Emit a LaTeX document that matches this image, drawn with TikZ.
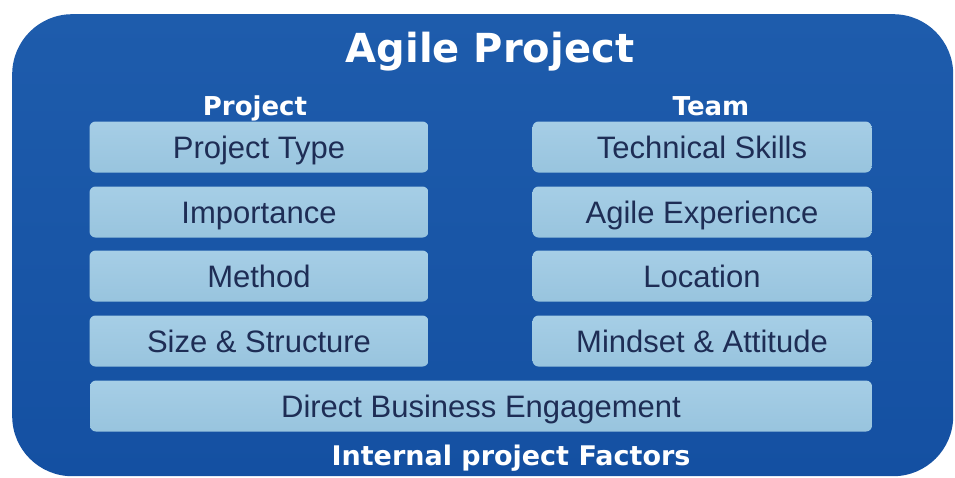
\documentclass[tikz,border=0pt]{standalone}
\usepackage{fontspec}
\setmainfont{Liberation Sans}
\newfontfamily\heavyfont{DejaVu Sans}
\definecolor{outerblue}{RGB}{20,80,162}
\definecolor{outertop}{RGB}{30,92,172}
\definecolor{boxfill}{RGB}{152,196,222}
\definecolor{boxtop}{RGB}{166,206,230}
\definecolor{boxtext}{RGB}{30,45,85}
\tikzset{
  factor/.style={draw=none, rounded corners=6pt, top color=boxtop, bottom color=boxfill,
    minimum height=51pt, inner sep=0pt, text=boxtext, font=\fontsize{31}{33}\selectfont,
    text height=22pt, text depth=0pt},
  halfbox/.style={factor, minimum width=339pt},
  widebox/.style={factor, minimum width=782pt},
  header/.style={text=white, font=\heavyfont\bfseries\fontsize{26}{28}\selectfont, inner sep=0pt, anchor=base},
}
\begin{document}
\begin{tikzpicture}[x=1pt,y=-1pt]
\useasboundingbox (0,0) rectangle (955,477);
\fill[white] (0,0) rectangle (955,477);
\node[draw=none, rounded corners=60pt, top color=outertop, bottom color=outerblue,
  minimum width=941pt, minimum height=462pt, inner sep=0pt, anchor=north west] (outer) at (12,14) {};
\node[text=white, font=\heavyfont\bfseries\fontsize{40}{42}\selectfont, inner sep=0pt, anchor=base] (title) at (490,62) {Agile Project};
\node[header] (hproj) at (255,115) {Project};
\node[header] (hteam) at (711,115) {Team};
\node[halfbox] (p1) at (259,147) {Project Type};
\node[halfbox] (p2) at (259,212) {Importance};
\node[halfbox] (p3) at (259,276) {Method};
\node[halfbox] (p4) at (259,341) {Size \& Structure};
\node[halfbox] (t1) at (702,147) {Technical Skills};
\node[halfbox] (t2) at (702,212) {Agile Experience};
\node[halfbox] (t3) at (702,276) {Location};
\node[halfbox] (t4) at (702,341) {Mindset \& Attitude};
\node[widebox] (dbe) at (481,406) {Direct Business Engagement};
\node[header, font=\heavyfont\bfseries\fontsize{27}{29}\selectfont] (foot) at (511,465) {Internal project Factors};
\end{tikzpicture}
\end{document}
